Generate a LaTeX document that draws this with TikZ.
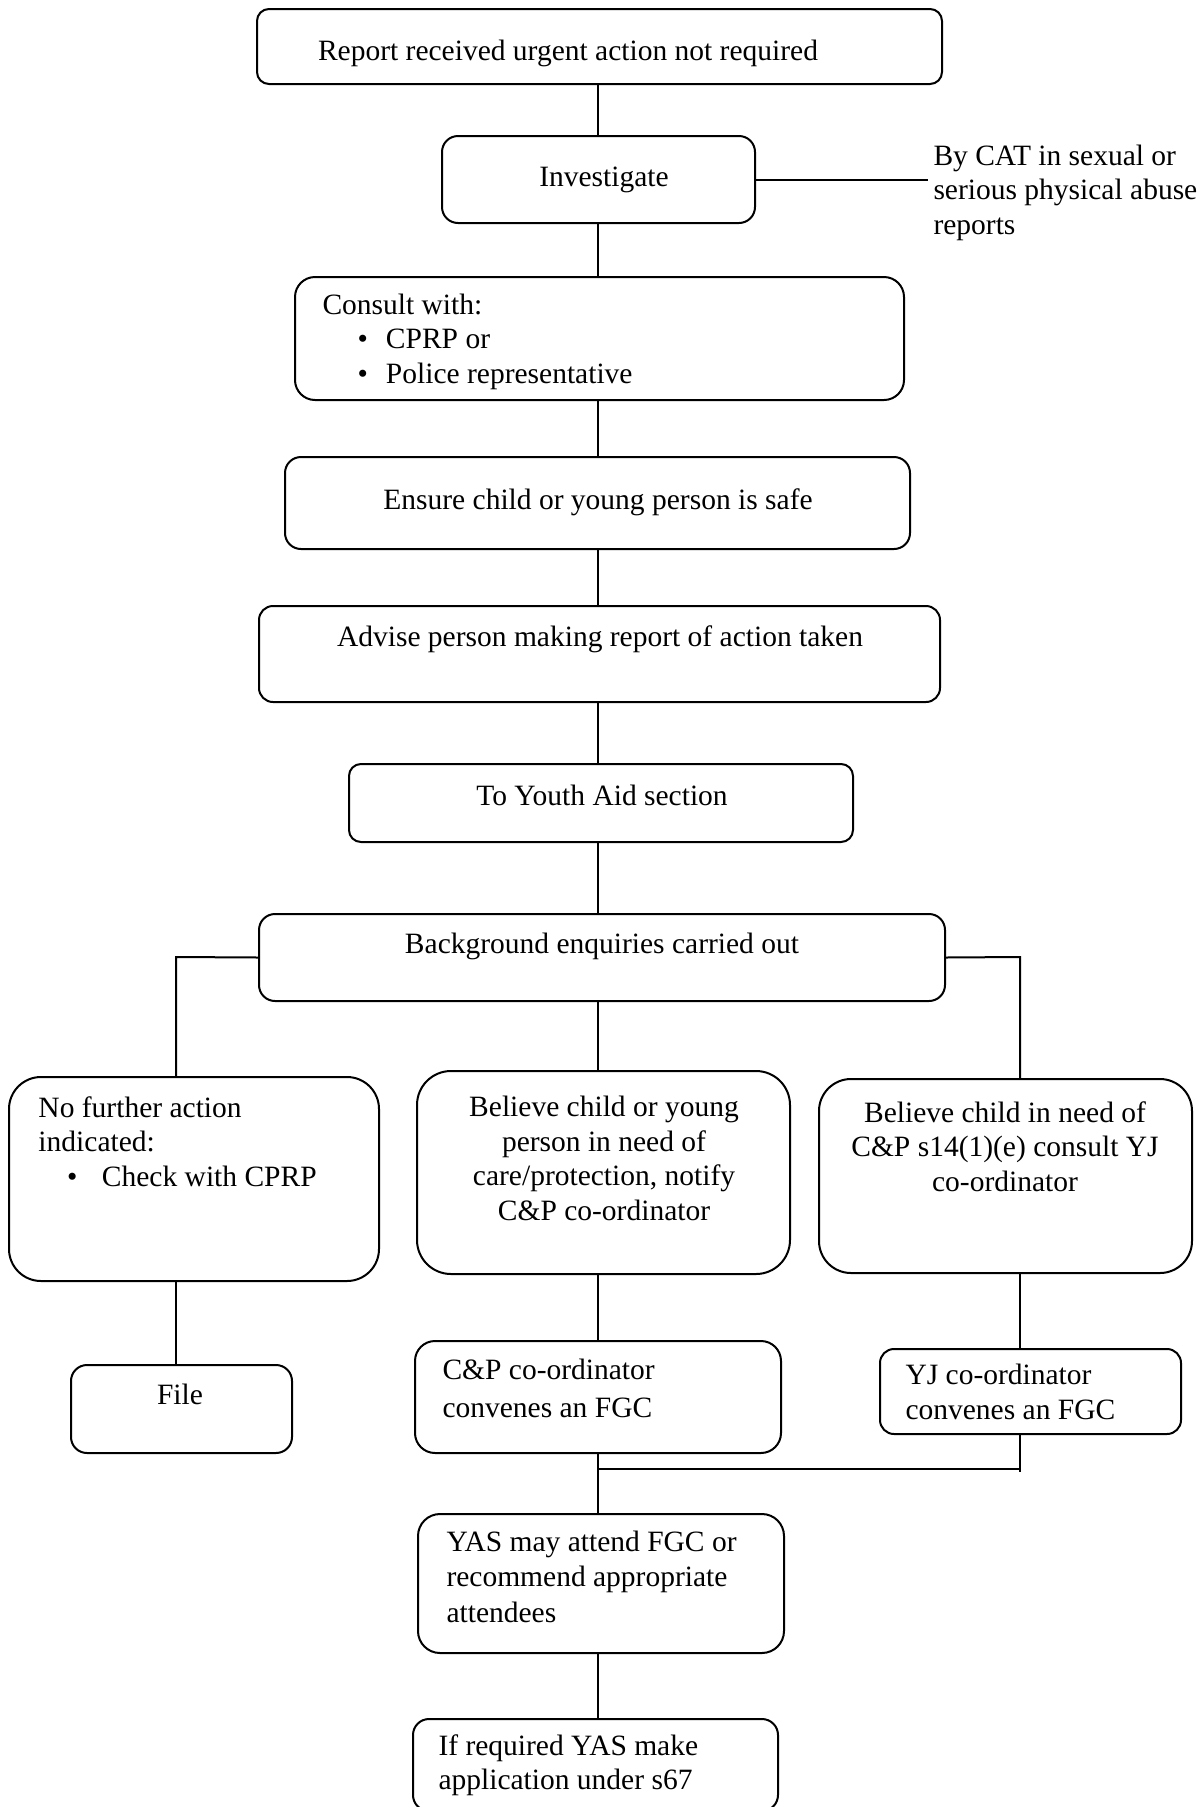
\documentclass[tikz,border=0pt]{standalone}
\usepackage{fontspec}
\setmainfont{Liberation Serif}
\begin{document}
\begin{tikzpicture}[x=0.4pt,y=-0.4pt,
  flowbox/.style={draw, line width=0.8pt, inner sep=0pt},
  conn/.style={line width=0.8pt},
  txt/.style={inner sep=0pt, font=\fontsize{11.8}{13.8}\selectfont},
]
\newcommand\mkbox[6]{\node[flowbox, rounded corners={#6*0.4pt}, minimum width={#4*0.4pt}, minimum height={#5*0.4pt}] (#1) at (#2,#3) {};}
\newcommand\bul[1]{\makebox[25.4pt][l]{\hspace{#1}\textbullet}}
\useasboundingbox (0,0) rectangle (1199,1807);
\clip (0,0) rectangle (1199,1807);
% boxes
\mkbox{b1}{599.5}{46.5}{685}{75}{12}
\mkbox{inv}{598.5}{179.5}{313}{87}{16}
\mkbox{cons}{599.5}{338.5}{609}{123}{20}
\mkbox{ens}{597.5}{503}{625}{92}{16}
\mkbox{adv}{599.5}{654}{681}{96}{14}
\mkbox{ya}{601}{803}{504}{78}{12}
\mkbox{bg}{602}{957.5}{686}{87}{16}
\mkbox{nfa}{194}{1179}{370}{204}{32}
\mkbox{bel1}{603.5}{1172.5}{373}{203}{34}
\mkbox{bel2}{1005.5}{1176}{373}{194}{32}
\mkbox{file}{181.5}{1409}{221}{88}{16}
\mkbox{cp}{598}{1397}{366}{112}{20}
\mkbox{yj}{1030.5}{1391.5}{301}{85}{14}
\mkbox{yas}{601}{1583.5}{366}{139}{22}
\mkbox{last}{595.5}{1765}{365}{92}{16}
% texts (multi-line nodes anchored at the baseline of their last line)
\node[txt, anchor=base] (t1) at (568,60) {Report received urgent action not required};
\node[txt, anchor=base] (tinv) at (604,186) {Investigate};
\node[txt, anchor=base west, align=left] (tcat) at (933,234) {By CAT in sexual or\\serious physical abuse\\reports};
\node[txt, anchor=base west, align=left] (tcons) at (322,383) {Consult with:\\\bul{14pt}CPRP or\\\bul{14pt}Police representative};
\node[txt, anchor=base] (tens) at (598,509) {Ensure child or young person is safe};
\node[txt, anchor=base] (tadv) at (600,646) {Advise person making report of action taken};
\node[txt, anchor=base] (tya) at (602,805) {To Youth Aid section};
\node[txt, anchor=base] (tbg) at (602,953) {Background enquiries carried out};
\node[txt, anchor=base west, align=left] (tnfa) at (38,1186) {No further action\\indicated:\\\bul{11.5pt}Check with CPRP};
\node[txt, anchor=base, align=center] (tbel1) at (604,1220) {Believe child or young\\person in need of\\care/protection, notify\\C\&P co-ordinator};
\node[txt, anchor=base, align=center] (tbel2) at (1005,1191) {Believe child in need of\\C\&P s14(1)(e) consult YJ\\co-ordinator};
\node[txt, anchor=base] (tfile) at (180,1404) {File};
\node[txt, anchor=base west, align=left, font=\fontsize{11.8}{15.2}\selectfont] (tcp) at (442,1417) {C\&P co-ordinator\\convenes an FGC};
\node[txt, anchor=base west, align=left] (tyj) at (905,1419) {YJ co-ordinator\\convenes an FGC};
\node[txt, anchor=base west, align=left, font=\fontsize{11.8}{14.2}\selectfont] (tyas) at (446,1622) {YAS may attend FGC or\\recommend appropriate\\attendees};
\node[txt, anchor=base west, align=left, font=\fontsize{11.8}{13.4}\selectfont] (tlast) at (438,1789) {If required YAS make\\application under s67};
% connectors
\coordinate (mx) at (598,0);
\coordinate (lb) at (176,957);
\coordinate (rb) at (1020,957);
\coordinate (catend) at (928,0);
\coordinate (mj) at (598,1469);
\coordinate (rend) at (1020,1472);
\draw[conn] (mx |- b1.south) -- (mx |- inv.north);
\draw[conn] (inv.east) -- (catend |- inv.east);
\draw[conn] (mx |- inv.south) -- (mx |- cons.north);
\draw[conn] (mx |- cons.south) -- (mx |- ens.north);
\draw[conn] (mx |- ens.south) -- (mx |- adv.north);
\draw[conn] (mx |- adv.south) -- (mx |- ya.north);
\draw[conn] (mx |- ya.south) -- (mx |- bg.north);
\draw[conn] (mx |- bg.south) -- (mx |- bel1.north);
\draw[conn] (bg.west) -- (lb) -- (lb |- nfa.north);
\draw[conn] (bg.east) -- (rb) -- (rb |- bel2.north);
\draw[conn] (lb |- nfa.south) -- (lb |- file.north);
\draw[conn] (mx |- bel1.south) -- (mx |- cp.north);
\draw[conn] (rb |- bel2.south) -- (rb |- yj.north);
\draw[conn] (rb |- yj.south) -- (rend);
\draw[conn] (mj) -- (rb |- mj);
\draw[conn] (mx |- cp.south) -- (mx |- yas.north);
\draw[conn] (mx |- yas.south) -- (mx |- last.north);
\end{tikzpicture}
\end{document}
